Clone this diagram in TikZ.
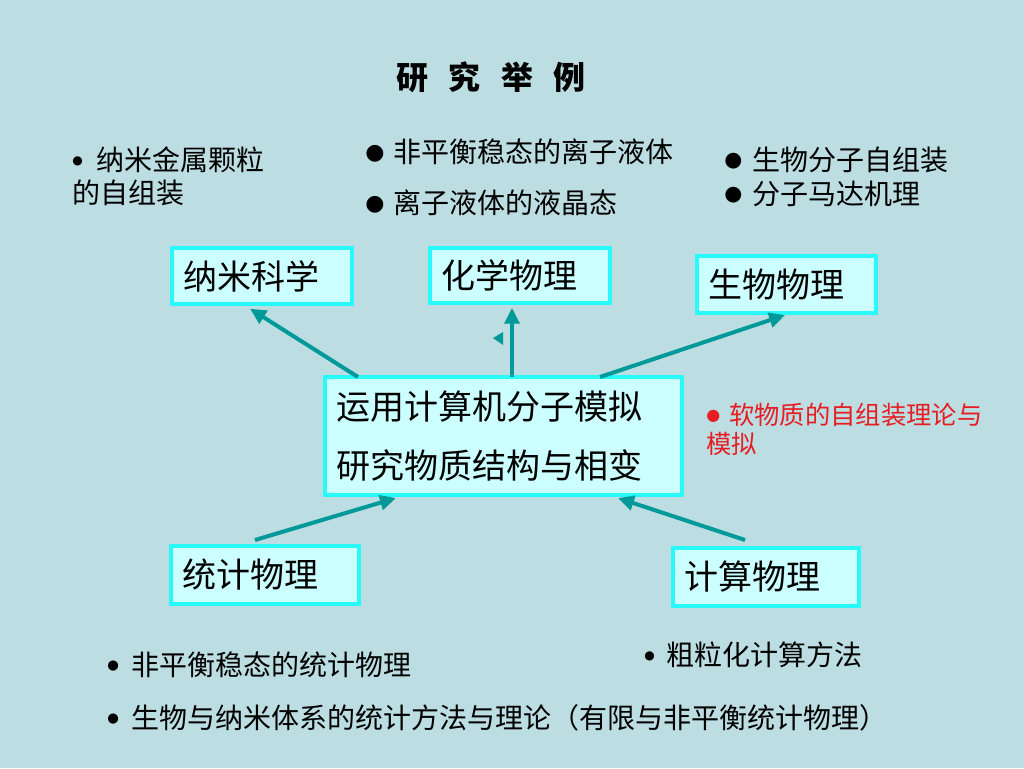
\documentclass[tikz,border=0pt]{standalone}
\usepackage{fontspec}
\setmainfont{Noto Sans CJK SC}
\newfontfamily\djv{DejaVu Sans}
\usetikzlibrary{arrows.meta,calc}
\definecolor{bgc}{RGB}{188,222,226}
\definecolor{boxfill}{RGB}{204,255,255}
\definecolor{boxline}{RGB}{40,250,250}
\definecolor{arr}{RGB}{0,153,153}
\definecolor{redtxt}{RGB}{230,30,35}
\newcommand\bul[3]{\makebox[#1][l]{\djv\fontsize{#2}{#2}\selectfont\raisebox{#3}{●}}}
\tikzset{
  box/.style={draw=boxline, fill=boxfill, line width=3pt, inner ysep=0pt, inner xsep=8.25pt,
    align=left, font=\fontsize{25.5}{44.25}\selectfont},
  txt/.style={anchor=west, inner sep=0pt, font=\fontsize{21}{24}\selectfont},
  link/.style={draw=arr, line width=3pt, -{Triangle[length=12pt,width=11pt]}},
}
\begin{document}
\begin{tikzpicture}[x=0.75pt,y=-0.75pt]
\useasboundingbox (0,0) rectangle (1024,768);
\fill[bgc] (0,0) rectangle (1024,768);

% title
\node[inner sep=0pt, font=\fontsize{24}{26}\selectfont\bfseries] (title) at (491,77) {研\hspace{15.5pt}究\hspace{15.5pt}举\hspace{15.5pt}例};

% boxes
\node[box, minimum width=135pt, minimum height=42pt, text width=118.5pt] (nano) at (262,276) {纳米科学};
\node[box, minimum width=135pt, minimum height=41.25pt, text width=118.5pt] (chem) at (520,275.5) {化学物理};
\node[box, minimum width=134.25pt, minimum height=42.75pt, text width=117.75pt] (bio) at (786.5,284.5) {生物物理};
\node[box, minimum width=267.75pt, minimum height=88.5pt, text width=251.25pt] (core) at (503.5,436) {运用计算机分子模拟\\研究物质结构与相变};
\node[box, minimum width=141pt, minimum height=43.5pt, text width=124.5pt] (stat) at (265,575) {统计物理};
\node[box, minimum width=139.5pt, minimum height=43.5pt, text width=123pt] (comp) at (766,577) {计算物理};

% connectors
\coordinate (s1) at (358,377);
\coordinate (s2) at (512,377);
\coordinate (s3) at (600,377);
\coordinate (e1) at ([xshift=-9pt,yshift=-2pt]nano.south);
\coordinate (e2) at ([xshift=-6pt,yshift=-2pt]chem.south);
\coordinate (e3) at ([xshift=-1pt]bio.south);
\coordinate (b1) at (255,540);
\coordinate (b2) at (745,540);
\coordinate (e4) at (396,498);
\coordinate (e5) at (618,498);
\draw[link] (s1) -- (e1);
\draw[link] (s2) -- (e2);
\draw[link] (s3) -- (e3);
\draw[link] (b1) -- (e4);
\draw[link] (b2) -- (e5);
% stray arrowhead
\fill[arr] (493,338) -- (503,332) -- (503,345) -- cycle;

% bullet texts
\node[txt] (t1) at (72,160) {\bul{18pt}{9}{5pt}纳米金属颗粒};
\node[txt] (t1b) at (72,193) {的自组装};
\node[txt] (t2) at (365,152) {\bul{21pt}{16.5}{2.5pt}非平衡稳态的离子液体};
\node[txt] (t3) at (365,203) {\bul{21pt}{16.5}{2.5pt}离子液体的液晶态};
\node[txt] (t4) at (724,160) {\bul{21pt}{15.5}{2.9pt}生物分子自组装};
\node[txt] (t5) at (724,194) {\bul{21pt}{15.5}{2.9pt}分子马达机理};
\node[txt, text=redtxt, font=\fontsize{19}{22}\selectfont] (r1) at (706,415) {\bul{17.25pt}{12}{3.2pt}软物质的自组装理论与};
\node[txt, text=redtxt, font=\fontsize{19}{22}\selectfont] (r2) at (706,444) {模拟};
\node[txt] (t6) at (644,655) {\bul{16.5pt}{9}{5pt}粗粒化计算方法};
\node[txt] (t7) at (107,665) {\bul{18pt}{10}{4.5pt}非平衡稳态的统计物理};
\node[txt] (t8) at (107,718) {\bul{18pt}{10}{4.5pt}生物与纳米体系的统计方法与理论（有限与非平衡统计物理）};
\end{tikzpicture}
\end{document}
